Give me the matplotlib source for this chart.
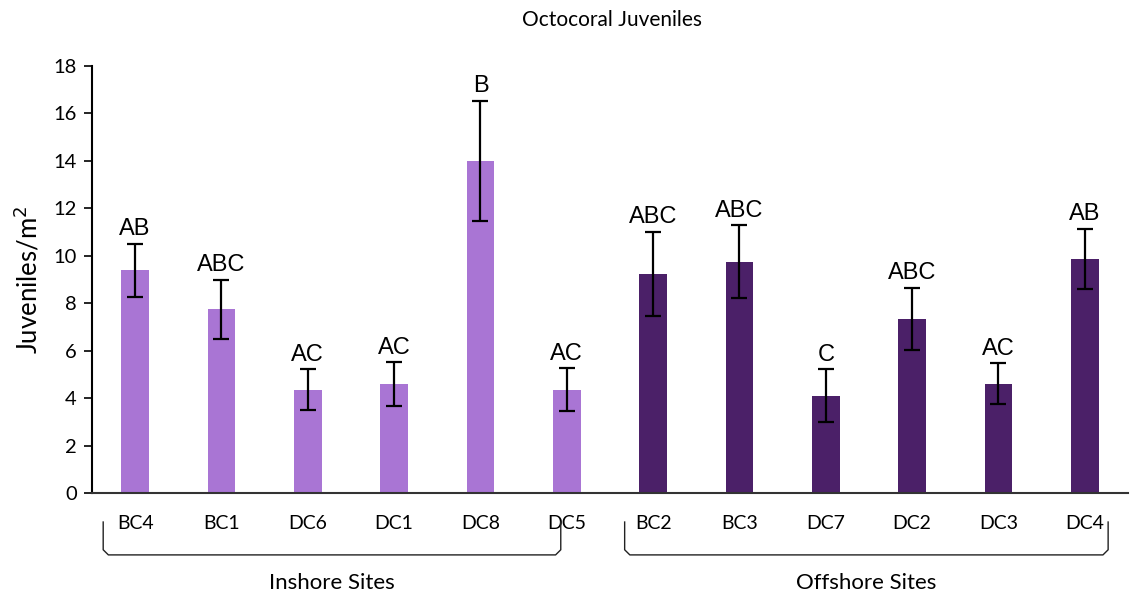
import numpy as np
import matplotlib
matplotlib.use("Agg")
import matplotlib.pyplot as plt
import matplotlib.transforms as mtransforms

# ── Data ─────────────────────────────────────────────────────────────
sites = ["BC4", "BC1", "DC6", "DC1", "DC8", "DC5",
         "BC2", "BC3", "DC7", "DC2", "DC3", "DC4"]
group = ["Inshore"] * 6 + ["Offshore"] * 6
means = [9.38, 7.74, 4.35, 4.60, 14.00, 4.35,
         9.23, 9.75, 4.10, 7.34, 4.60, 9.86]
errs = [1.13, 1.26, 0.87, 0.92, 2.53, 0.90,
        1.78, 1.54, 1.12, 1.31, 0.86, 1.28]
letters = ["AB", "ABC", "AC", "AC", "B", "AC",
           "ABC", "ABC", "C", "ABC", "AC", "AB"]
group_names = ["Inshore Sites", "Offshore Sites"]
yticks = [0, 2, 4, 6, 8, 10, 12, 14, 16, 18]

colors = {"Inshore": "#A975D4", "Offshore": "#4B2068"}

# ── Figure ───────────────────────────────────────────────────────────
fig = plt.figure(figsize=(11.34, 5.98), dpi=100)
ax = fig.add_axes([0.0811, 0.1756, 0.9136, 0.714])

x = np.arange(len(sites))
ax.bar(x, means, width=0.32, color=[colors[g] for g in group], zorder=2)
ax.errorbar(x, means, yerr=errs, fmt="none", ecolor="black",
            elinewidth=1.6, capsize=5.5, capthick=1.6, zorder=3)

for xi, m, e, lab in zip(x, means, errs, letters):
    ax.annotate(lab, (xi, m + e), xytext=(0, 2.5), textcoords="offset points",
                ha="center", va="bottom", fontsize=17,
                family="Liberation Sans", color="black")

ax.set_xlim(-0.5, len(sites) - 0.5)
ax.set_ylim(0, 18)
ax.set_yticks(yticks)
ax.set_yticklabels([str(t) for t in yticks], fontsize=14.5, family="Lato")
ax.tick_params(axis="y", length=6, width=1.2, direction="out", pad=5)
ax.set_xticks(x)
ax.set_xticklabels(sites, fontsize=14, family="Lato")
ax.tick_params(axis="x", length=0, pad=16)

ax.spines["top"].set_visible(False)
ax.spines["right"].set_visible(False)
ax.spines["left"].set_linewidth(1.5)
ax.spines["bottom"].set_linewidth(1.5)
ax.spines["bottom"].set_color("#333333")

ax.set_ylabel("Juveniles/m$^2$", fontsize=18.5, family="Lato", labelpad=8)
fig.text(0.54, 0.967, "Octocoral Juveniles", ha="center", va="center",
         fontsize=15, family="Lato")

# Group brackets below the site labels
trans = mtransforms.blended_transform_factory(ax.transData, ax.transAxes)
brackets = [(-0.37, 4.93), (5.67, 11.27)]
y_top, y_bot = -0.068, -0.145
r = 0.012
for (x0, x1), name in zip(brackets, group_names):
    xs = [x0, x0, x0 + 0.06, x1 - 0.06, x1, x1]
    ys = [y_top, y_bot + r, y_bot, y_bot, y_bot + r, y_top]
    ax.plot(xs, ys, color="#222222", lw=1.0, transform=trans, clip_on=False)
    ax.text((x0 + x1) / 2, -0.211, name, transform=trans, ha="center",
            va="center", fontsize=16, family="Lato")

fig.savefig("out.png", dpi=100)
